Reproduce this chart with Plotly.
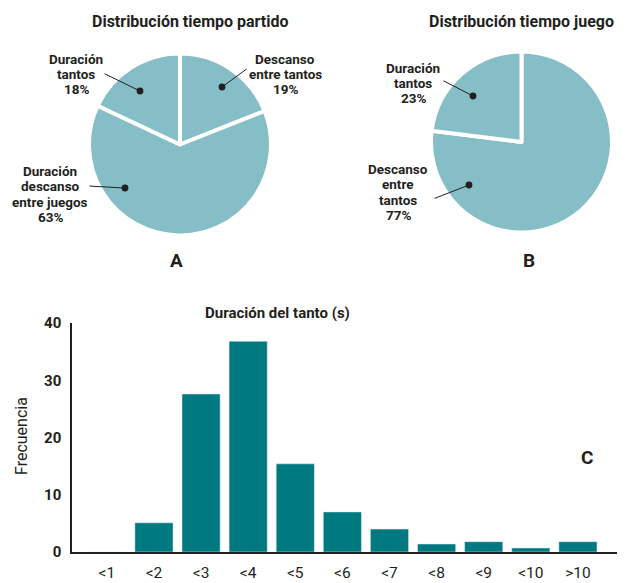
import plotly.graph_objects as go

# pie A: distribución tiempo partido
partido_labels = ["Descanso entre tantos", "Duración descanso entre juegos", "Duración tantos"]
partido_values = [19, 63, 18]

# pie B: distribución tiempo juego
juego_labels = ["Descanso entre tantos", "Duración tantos"]
juego_values = [77, 23]

# histogram C: duración del tanto
tanto_cats = ["<1", "<2", "<3", "<4", "<5", "<6", "<7", "<8", "<9", "<10", ">10"]
tanto_freq = [0, 5.1, 27.6, 36.8, 15.4, 7.0, 4.0, 1.4, 1.8, 0.7, 1.8]

# the page body margin is removed below, so positions are window pixels
W, H = 626, 583
FONT = "Liberation Sans Narrow, Arial Narrow, Roboto, sans-serif"
INK = "#231f20"
PIE_COL = "#85bec6"
BAR_COL = "#007a80"


def px(x):
    return x / W


def py(y):
    return 1 - y / H


fig = go.Figure()

fig.add_trace(go.Pie(
    labels=partido_labels, values=partido_values, sort=False,
    direction="clockwise", rotation=0, textinfo="none",
    marker=dict(colors=[PIE_COL] * 3, line=dict(color="white", width=4)),
    domain=dict(x=[px(89), px(271)], y=[py(236), py(53)]),
    showlegend=False,
))

fig.add_trace(go.Pie(
    labels=juego_labels, values=juego_values, sort=False,
    direction="clockwise", rotation=0, textinfo="none",
    marker=dict(colors=[PIE_COL] * 2, line=dict(color="white", width=4)),
    domain=dict(x=[px(431), px(612)], y=[py(233), py(51)]),
    showlegend=False,
))

fig.add_trace(go.Bar(
    x=tanto_cats, y=tanto_freq, marker_color=BAR_COL, showlegend=False,
))

ann = []


def text(x, y, s, size=13.5, bold=True, step=15.2):
    # one annotation per line so the line spacing can follow the reference
    lines = s.split("\n")
    y0 = y - step * (len(lines) - 1) / 2
    for i, line in enumerate(lines):
        t = "<b>" + line + "</b>" if bold else line
        ann.append(dict(x=px(x), y=py(y0 + i * step), xref="paper", yref="paper",
                        text=t, showarrow=False, xanchor="center", yanchor="middle",
                        font=dict(family=FONT, size=size, color=INK)))


def leader(x0, y0, x1, y1):
    # line from (x0, y0) to dot at (x1, y1)
    ann.append(dict(x=px(x1), y=py(y1), xref="paper", yref="paper", text="",
                    showarrow=True, arrowhead=6, arrowsize=1.7, arrowwidth=1,
                    arrowcolor=INK, ax=x0 - x1, ay=y0 - y1))


text(190, 22, "Distribución tiempo partido", 16)
text(521, 22, "Distribución tiempo juego", 16)
text(176, 260, "A", 19)
text(529, 260, "B", 19)

text(76, 74, "Duración\ntantos\n18%")
leader(103, 73, 140, 91)
text(285, 74, "Descanso\nentre tantos\n19%")
leader(248, 68, 222, 87)
text(50, 194, "Duración\ndescanso\nentre juegos\n63%")
leader(88, 186, 125, 188)

text(413, 83, "Duración\ntantos\n23%")
leader(442, 80, 473, 96)
text(398, 192, "Descanso\nentre\ntantos\n77%")
leader(433, 199, 469, 185)

text(277, 313, "Duración del tanto (s)", 15)
text(587, 457, "C", 19)
ann.append(dict(x=px(21), y=py(436), xref="paper", yref="paper",
                text="Frecuencia", showarrow=False, textangle=-90,
                xanchor="center", yanchor="middle",
                font=dict(family=FONT, size=16, color=INK)))

fig.update_layout(
    width=W, height=H,
    margin=dict(l=0, r=0, t=0, b=0),
    paper_bgcolor="white", plot_bgcolor="white",
    font=dict(family=FONT, color=INK),
    bargap=0.19,
    annotations=ann,
    xaxis=dict(domain=[px(72), px(617)], range=[-0.74, 10.83],
               showline=True, linecolor=INK, linewidth=1.5,
               showgrid=False, zeroline=False, ticks="",
               tickfont=dict(size=15.5), ticklabelstandoff=6, automargin=False),
    yaxis=dict(domain=[py(552), py(323)], range=[0, 40],
               tickvals=[0, 10, 20, 30, 40],
               ticktext=["<b>%d</b>" % v for v in [0, 10, 20, 30, 40]],
               showline=True, linecolor=INK, linewidth=1.5,
               showgrid=False, zeroline=False, ticks="",
               tickfont=dict(size=15), ticklabelstandoff=6, automargin=False),
)

fig.write_html("out.html", config={"displayModeBar": False},
               post_script="document.body.style.margin = '0';")
